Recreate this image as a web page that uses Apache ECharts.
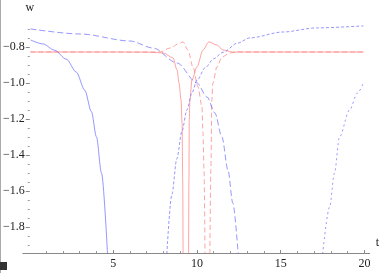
<!DOCTYPE html>
<html>
<head>
<meta charset="utf-8">
<script src="https://cdn.jsdelivr.net/npm/echarts@6/dist/echarts.min.js"></script>
<style>
  html, body { margin: 0; padding: 0; background: #fff; }
  #chart { width: 382px; height: 273px; }
</style>
</head>
<body>
<div id="chart"></div>
<script>
// tick positions
var xMajor = [5, 10, 15, 20];
var xMinor = [1, 2, 3, 4, 6, 7, 8, 9, 11, 12, 13, 14, 16, 17, 18, 19];
var yMajor = [-1.8, -1.6, -1.4, -1.2, -1.0, -0.8];
var yMinor = [-1.9, -1.85, -1.75, -1.7, -1.65, -1.55, -1.5, -1.45, -1.35, -1.3, -1.25,
              -1.15, -1.1, -1.05, -0.95, -0.9, -0.85, -0.75, -0.7];

// blue curves [t, w]
var blue1 = [[0.06, -0.761], [0.8, -0.783], [1.5, -0.818], [2.2, -0.868], [2.8, -0.94],
             [3.3, -1.04], [3.7, -1.16], [4.0, -1.3], [4.3, -1.5], [4.66, -1.95]];
var blue2 = [[0.06, -0.700], [3.04, -0.728], [6.01, -0.767], [7.38, -0.806], [8.81, -0.889],
             [10.0, -1.0], [10.6, -1.078], [11.07, -1.167], [11.49, -1.3], [11.85, -1.483],
             [12.14, -1.667], [12.46, -1.95]];
var blue3 = [[8.2, -1.95], [8.5, -1.62], [8.8, -1.42], [9.1, -1.27], [9.4, -1.15],
             [9.7, -1.055], [10.0, -0.985], [10.5, -0.915], [11.0, -0.865], [11.55, -0.83],
             [12.44, -0.778], [13.15, -0.75], [15.12, -0.717], [17.14, -0.694], [19.94, -0.683]];
var blue4 = [[17.5, -1.95], [17.92, -1.689], [18.21, -1.5], [18.51, -1.3], [19.11, -1.15],
             [19.58, -1.056], [19.94, -1.0]];

// red curves [t, w]
var red1 = [[0.06, -0.828], [5, -0.828], [7.0, -0.829], [7.98, -0.833], [8.57, -0.861],
            [8.81, -0.928], [8.93, -1.0], [9.05, -1.094], [9.11, -1.222], [9.15, -1.539], [9.17, -1.95]];
var red2 = [[0.06, -0.828], [5, -0.828], [7.5, -0.828], [7.8, -0.827], [8.39, -0.806],
            [8.99, -0.778], [9.17, -0.772], [9.46, -0.817], [9.76, -0.911], [10.06, -1.022],
            [10.3, -1.133], [10.36, -1.278], [10.42, -1.483], [10.48, -1.95]];
var red3 = [[9.5, -1.95], [9.52, -1.539], [9.54, -1.206], [9.58, -1.094], [9.70, -0.983],
            [10.0, -0.911], [10.36, -0.817], [10.71, -0.772], [11.19, -0.789], [11.55, -0.817],
            [12.14, -0.828], [15, -0.828], [19.94, -0.828]];
var red4 = [[10.77, -1.95], [10.83, -1.483], [10.89, -1.094], [10.95, -1.0], [11.19, -0.911],
            [11.49, -0.856], [11.96, -0.833], [12.56, -0.828], [15, -0.828], [19.94, -0.828]];

var BLUE = 'rgba(100, 100, 255, 0.75)';
var RED = 'rgba(255, 110, 110, 0.7)';
var FONT = 'Liberation Serif';

function fmt(v) {
  return (v < 0 ? '\u2212' : '') + Math.abs(v).toFixed(1);
}

function curve(data, color, dash) {
  return {
    type: 'line',
    data: data,
    showSymbol: false,
    smooth: 0.3,
    smoothMonotone: 'x',
    clip: true,
    lineStyle: { color: color, width: 0.9, type: dash },
    silent: true
  };
}

var chart = echarts.init(document.getElementById('chart'));
chart.setOption({
  animation: false,
  backgroundColor: '#fff',
  grid: { left: 22, top: 25, width: 348, height: 228 },
  xAxis: [{
    type: 'value', min: -0.4, max: 20.31,
    name: 't', nameLocation: 'end', nameGap: 6,
    nameTextStyle: { fontFamily: FONT, fontSize: 12, color: '#222', verticalAlign: 'bottom', padding: [0, 0, 4, 0] },
    axisLine: { onZero: false, lineStyle: { color: '#888', width: 1 } },
    axisTick: { inside: true, length: 3, customValues: xMajor, lineStyle: { color: '#888' } },
    axisLabel: { customValues: xMajor, margin: 5, fontFamily: FONT, fontSize: 12, color: '#222' },
    splitLine: { show: false }
  }, {
    type: 'value', min: -0.4, max: 20.31, position: 'bottom',
    axisLine: { show: false },
    axisTick: { inside: true, length: 2, customValues: xMinor, lineStyle: { color: '#999' } },
    axisLabel: { show: false },
    splitLine: { show: false }
  }],
  yAxis: [{
    type: 'value', min: -1.945, max: -0.678, offset: -7,
    name: 'w', nameLocation: 'end', nameGap: 11,
    nameTextStyle: { fontFamily: FONT, fontSize: 12, color: '#222' },
    axisLine: { show: false },
    axisTick: { length: 4, customValues: yMajor, lineStyle: { color: '#888' } },
    axisLabel: { customValues: yMajor, margin: 5, fontFamily: FONT, fontSize: 12, color: '#222', formatter: fmt },
    splitLine: { show: false }
  }, {
    type: 'value', min: -1.945, max: -0.678, offset: -7, position: 'left',
    axisLine: { show: false },
    axisTick: { length: 2, customValues: yMinor, lineStyle: { color: '#999' } },
    axisLabel: { show: false },
    splitLine: { show: false }
  }],
  series: [
    curve(red1, RED, 'solid'),
    curve(red2, RED, [5, 3]),
    curve(red3, RED, 'solid'),
    curve(red4, RED, [5, 3]),
    curve(blue1, BLUE, 'solid'),
    curve(blue2, BLUE, [6, 3]),
    curve(blue3, BLUE, [3, 2]),
    curve(blue4, BLUE, [2, 3])
  ],
  graphic: [
    { type: 'line', shape: { x1: 0.5, y1: 0, x2: 0.5, y2: 273 }, style: { stroke: '#aaa', lineWidth: 1 } },
    { type: 'rect', shape: { x: 0, y: 262, width: 7, height: 8 }, style: { fill: '#333' } }
  ]
});
</script>
</body>
</html>
